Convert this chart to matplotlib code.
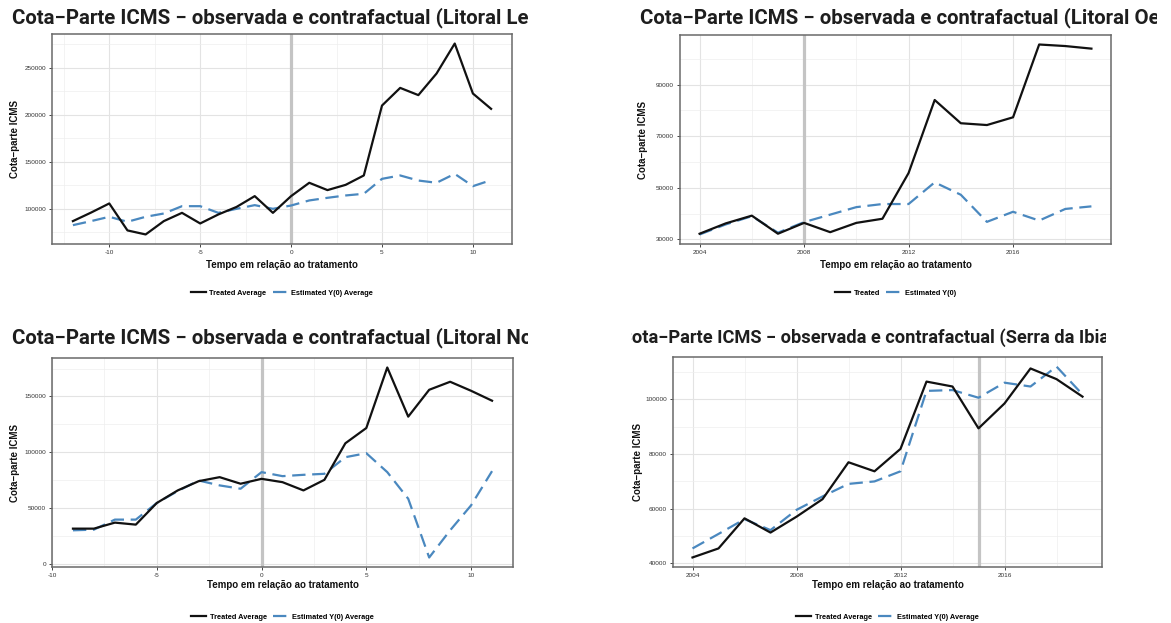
import matplotlib
matplotlib.use("Agg")
import matplotlib.pyplot as plt
import numpy as np
from matplotlib.transforms import Bbox, TransformedBbox
from matplotlib.lines import Line2D

# ---------------- data ----------------
tl_time = list(range(-12, 12))
tl_treated = [86900, 96000, 105700, 77000, 72700, 86900, 95700, 84400, 94000, 102000,
              113500, 95700, 113500, 127700, 119900, 125500, 135500, 209900, 228700,
              221000, 244000, 275900, 222700, 206400]
tl_estimated = [82600, 86900, 91500, 86200, 91500, 95000, 102800, 102800, 95700, 100000,
                103900, 100000, 103500, 108900, 111700, 114200, 116000, 131900, 135500,
                130100, 127700, 137200, 124100, 130500]

tr_year = list(range(2004, 2020))
tr_treated = [32200, 36200, 39200, 32200, 36400, 32800, 36400, 38000, 55700, 84000,
              75000, 74300, 77300, 105500, 104900, 103900]
tr_estimated = [31900, 35800, 39000, 32600, 36700, 39600, 42500, 43700, 43700, 52100,
                47300, 36800, 40700, 37300, 41800, 42800]

bl_time = list(range(-9, 12))
bl_treated = [31300, 31300, 36700, 34900, 54300, 65600, 73900, 77500, 71600, 76000,
              73000, 65600, 75100, 107900, 121600, 175900, 131800, 155900, 163100,
              155000, 146100]
bl_estimated = [29800, 30400, 39400, 39400, 54300, 65000, 74500, 70100, 67100, 82000,
                78400, 79600, 80500, 95400, 99000, 82000, 58100, 5400, 29800, 52200,
                82900]

br_year = list(range(2004, 2020))
br_treated = [42200, 45500, 56500, 51300, 57100, 63500, 77000, 73700, 81900, 106500,
              104700, 89400, 98500, 111300, 107400, 101000]
br_estimated = [45500, 50800, 56200, 52200, 59600, 64500, 69100, 70000, 73700, 103100,
                103400, 100600, 106100, 104700, 112000, 101800]

titles = [
    "Cota\u2212Parte ICMS \u2212 observada e contrafactual (Litoral Leste)",
    "Cota\u2212Parte ICMS \u2212 observada e contrafactual (Litoral Oeste)",
    "Cota\u2212Parte ICMS \u2212 observada e contrafactual (Litoral Norte)",
    "Cota\u2212Parte ICMS \u2212 observada e contrafactual (Serra da Ibiapaba)",
]
xlabel = "Tempo em rela\u00e7\u00e3o ao tratamento"
ylabel = "Cota\u2212parte ICMS"
legend_avg = ["Treated Average", "Estimated Y(0) Average"]
legend_plain = ["Treated", "Estimated Y(0)"]

tl_xticks = [-10, -5, 0, 5, 10]
tl_yticks = [100000, 150000, 200000, 250000]
tr_xticks = [2004, 2008, 2012, 2016]
tr_yticks = [30000, 50000, 70000, 90000]
bl_xticks = [-10, -5, 0, 5, 10]
bl_yticks = [0, 50000, 100000, 150000]
br_xticks = [2004, 2008, 2012, 2016]
br_yticks = [40000, 60000, 80000, 100000]

tl_treat_start = 0
tr_treat_start = 2008
bl_treat_start = 0
br_treat_start = 2015

# ---------------- layout ----------------
W, H = 1171, 623
fig = plt.figure(figsize=(W / 100, H / 100), dpi=100)
fig.patch.set_facecolor("white")

TICK_FONT = ["Liberation Sans", "DejaVu Sans"]
TITLE_FONT = ["Roboto", "DejaVu Sans"]


def px_rect(x0, y0, x1, y1):
    return [x0 / W, 1 - y1 / H, (x1 - x0) / W, (y1 - y0) / H]


def fx(x):
    return x / W


def fy(y):
    return 1 - y / H


BLACK = "#111111"
BLUE = "#4a88bf"

panels = [
    dict(rect=(52, 34, 512, 244), x=tl_time, tr=tl_treated, es=tl_estimated,
         xt=tl_xticks, yt=tl_yticks, vl=tl_treat_start, leg=legend_avg,
         title=titles[0], tx=12, ty=23, clip=(0, 528), tscale=1.0,
         ylx=15, xly=265, legy=293),
    dict(rect=(680, 35, 1111, 244), x=tr_year, tr=tr_treated, es=tr_estimated,
         xt=tr_xticks, yt=tr_yticks, vl=tr_treat_start, leg=legend_plain,
         title=titles[1], tx=640, ty=23, clip=(600, 1157), tscale=1.0,
         ylx=643, xly=265, legy=293),
    dict(rect=(52, 358, 513, 567), x=bl_time, tr=bl_treated, es=bl_estimated,
         xt=bl_xticks, yt=bl_yticks, vl=bl_treat_start, leg=legend_avg,
         title=titles[2], tx=12, ty=343, clip=(0, 528), tscale=1.0,
         ylx=15, xly=585, legy=617),
    dict(rect=(673, 357, 1102, 567), x=br_year, tr=br_treated, es=br_estimated,
         xt=br_xticks, yt=br_yticks, vl=br_treat_start, leg=legend_avg,
         title=titles[3], tx=None, ty=343, clip=(631, 1106), tscale=0.9,
         ylx=638, xly=585, legy=617),
]

# fit title font size to reference width
renderer = fig.canvas.get_renderer()
probe = fig.text(0, 0, "Cota\u2212Parte ICMS \u2212 observada e contrafactual (Litoral Le",
                 fontsize=13, fontweight="bold", family=TITLE_FONT)
w13 = probe.get_window_extent(renderer).width
probe.remove()
title_fs = 13 * 515.0 / w13

for p in panels:
    x0, y0, x1, y1 = p["rect"]
    ax = fig.add_axes(px_rect(x0, y0, x1, y1))
    ax.set_facecolor("white")
    ax.axvline(p["vl"], color="#c4c4c4", lw=2.3, zorder=2)
    ax.plot(p["x"], p["tr"], color=BLACK, lw=1.6, zorder=4, solid_joinstyle="round")
    ax.plot(p["x"], p["es"], color=BLUE, lw=1.6, dashes=(6, 3), zorder=3)
    ax.margins(0.05)
    ax.set_xticks(p["xt"])
    ax.set_yticks(p["yt"])
    ax.set_xticklabels([str(v) for v in p["xt"]])
    ax.set_yticklabels([str(v) for v in p["yt"]])
    xl = ax.get_xlim()
    yl = ax.get_ylim()
    xs = p["xt"][1] - p["xt"][0]
    ys = p["yt"][1] - p["yt"][0]
    xm = np.arange(p["xt"][0] - xs * 3.5, p["xt"][-1] + xs * 3, xs)
    ym = np.arange(p["yt"][0] - ys * 3.5, p["yt"][-1] + ys * 3, ys)
    ax.set_xticks([v for v in xm if xl[0] <= v <= xl[1]], minor=True)
    ax.set_yticks([v for v in ym if yl[0] <= v <= yl[1]], minor=True)
    ax.set_xlim(xl)
    ax.set_ylim(yl)
    ax.grid(True, which="major", color="#e3e3e3", lw=0.8, zorder=0)
    ax.grid(True, which="minor", color="#eeeeee", lw=0.5, zorder=0)
    ax.set_axisbelow(True)
    for s in ax.spines.values():
        s.set_color("#6a6a6a")
        s.set_linewidth(1.1)
    ax.tick_params(which="major", direction="out", length=2.2, width=0.7,
                   color="#444444", labelsize=4.6, labelcolor="#333333", pad=2.2)
    ax.tick_params(which="minor", length=0)
    for lab in ax.get_xticklabels() + ax.get_yticklabels():
        lab.set_family(TICK_FONT)

    cx = (x0 + x1) / 2
    cy = (y0 + y1) / 2
    fig.text(fx(cx), fy(p["xly"]), xlabel, ha="center", va="center",
             fontsize=7, fontweight="bold", family=TICK_FONT, color="#111111")
    fig.text(fx(p["ylx"]), fy(cy), ylabel, ha="center", va="center", rotation=90,
             fontsize=7, fontweight="bold", family=TICK_FONT, color="#111111")

    handles = [Line2D([], [], color=BLACK, lw=1.6),
               Line2D([], [], color=BLUE, lw=1.6, dashes=(6, 3))]
    leg = fig.legend(handles, p["leg"], loc="center", bbox_to_anchor=(fx(cx), fy(p["legy"])),
                     ncol=2, frameon=False, fontsize=5.3, handlelength=2.0,
                     handletextpad=0.5, columnspacing=0.9, borderaxespad=0)
    for t in leg.get_texts():
        t.set_family(TICK_FONT)
        t.set_fontweight("bold")

    fs = title_fs * p["tscale"]
    if p["tx"] is None:
        probe = fig.text(0, 0, "C", fontsize=fs, fontweight="bold", family=TITLE_FONT)
        c_w = probe.get_window_extent(renderer).width
        probe.remove()
        tx = 632 - c_w
    else:
        tx = p["tx"]
    t = fig.text(fx(tx), fy(p["ty"]), p["title"], ha="left", va="baseline",
                 fontsize=fs, fontweight="bold", family=TITLE_FONT, color="#1e1e1e")
    cb = TransformedBbox(Bbox.from_extents(fx(p["clip"][0]), 0, fx(p["clip"][1]), 1),
                         fig.transFigure)
    t.set_clip_box(cb)
    t.set_clip_on(True)

fig.savefig("out.png", dpi=100, facecolor="white")
